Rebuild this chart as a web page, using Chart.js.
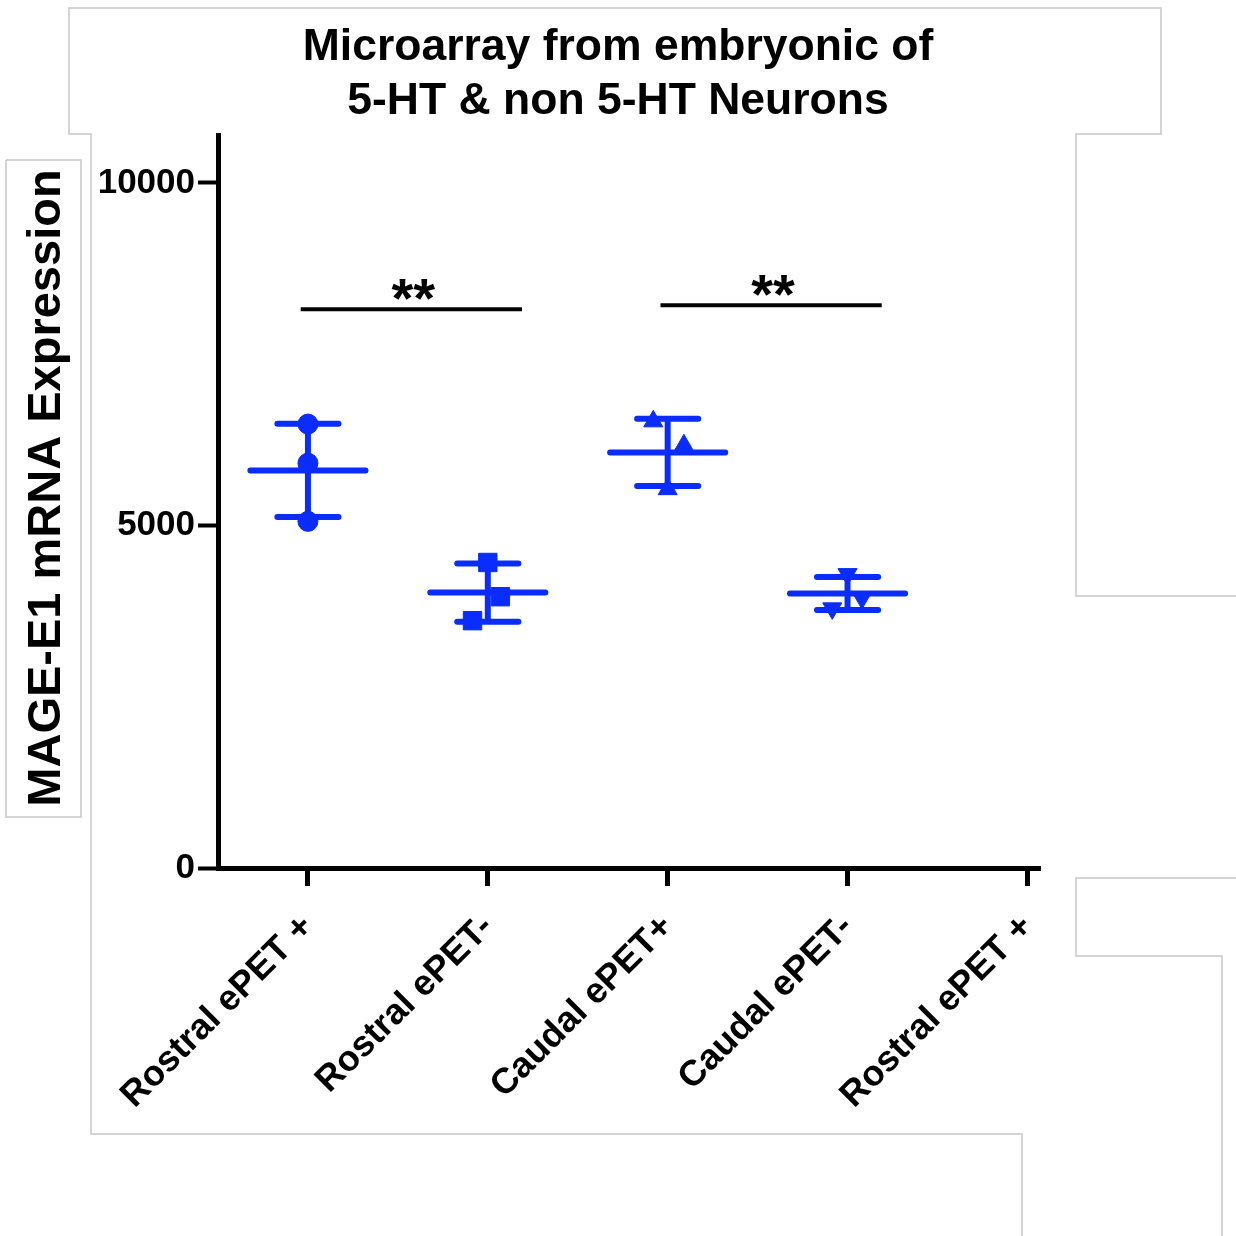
<!DOCTYPE html>
<html><head><meta charset="utf-8">
<script src="https://cdn.jsdelivr.net/npm/chart.js@4/dist/chart.umd.min.js"></script>
<style>html,body{margin:0;padding:0;background:#fff}canvas{display:block}</style>
</head><body>
<canvas id="c" width="1236" height="1236"></canvas>
<script>
// ---------- data ----------
const categories = ['Rostral ePET +', 'Rostral ePET-', 'Caudal ePET+', 'Caudal ePET-', 'Rostral ePET +'];
const titleLines = ['Microarray from embryonic of', '5-HT & non 5-HT Neurons'];
const yAxisTitle = 'MAGE-E1 mRNA Expression';
const yTickValues = [0, 5000, 10000];

const rostralPosValues = [6480, 5910, 5060];
const rostralPosJitter = [0, 0, 0];
const rostralNegValues = [4460, 3960, 3610];
const rostralNegJitter = [0, 0.07, -0.085];
const caudalPosValues = [6520, 6170, 5530];
const caudalPosJitter = [-0.08, 0.09, 0];
const caudalNegValues = [4290, 3790, 3940];
const caudalNegJitter = [0, -0.085, 0.08];

const groupMeans = [5804, 4020, 6067, 4006];
const groupSDs = [680, 424, 490, 241];

const sigPairs = [[0, 1], [2, 3]];
const sigHeights = [8158, 8216];
const sigLabels = ['**', '**'];

// ---------- styles ----------
const BLUE = '#0a2cff';
const FONT = "'Liberation Sans', Arial, Helvetica, sans-serif";
const groups = [
  { values: rostralPosValues, jitter: rostralPosJitter, style: 'circle', radius: 10, rot: 0 },
  { values: rostralNegValues, jitter: rostralNegJitter, style: 'rect', radius: 13, rot: 0 },
  { values: caudalPosValues, jitter: caudalPosJitter, style: 'triangle', radius: 11, rot: 0 },
  { values: caudalNegValues, jitter: caudalNegJitter, style: 'triangle', radius: 11, rot: 180 }
];
const MEAN_HALF = 0.32, CAP_HALF = 0.17;

const datasets = [];
groups.forEach((g, i) => {
  const m = groupMeans[i], sd = groupSDs[i];
  datasets.push({
    type: 'line', yAxisID: 'y',
    data: [
      { x: i - MEAN_HALF, y: m }, { x: i + MEAN_HALF, y: m }, { x: i, y: null },
      { x: i, y: m - sd }, { x: i, y: m + sd }, { x: i, y: null },
      { x: i - CAP_HALF, y: m + sd }, { x: i + CAP_HALF, y: m + sd }, { x: i, y: null },
      { x: i - CAP_HALF, y: m - sd }, { x: i + CAP_HALF, y: m - sd }
    ],
    borderColor: BLUE, borderWidth: 6, borderCapStyle: 'round',
    pointRadius: 0, spanGaps: false, fill: false, tension: 0
  });
  datasets.push({
    type: 'scatter', yAxisID: 'y',
    data: g.values.map((v, k) => ({ x: i + g.jitter[k], y: v })),
    backgroundColor: BLUE, borderColor: BLUE, borderWidth: 1,
    pointStyle: g.style, pointRadius: g.radius, pointRotation: g.rot
  });
});
sigPairs.forEach((p, k) => {
  datasets.push({
    type: 'line', yAxisID: 'y',
    data: [{ x: p[0] - 0.04, y: sigHeights[k] }, { x: p[1] + 0.19, y: sigHeights[k] }],
    borderColor: '#000', borderWidth: 4, pointRadius: 0, fill: false
  });
});

const decoPlugin = {
  id: 'deco',
  beforeDraw(chart) {
    const ctx = chart.ctx;
    ctx.save();
    ctx.fillStyle = '#fff';
    ctx.fillRect(0, 0, chart.width, chart.height);
    ctx.strokeStyle = '#c8c8c8';
    ctx.lineWidth = 1.5;
    const poly = (pts) => {
      ctx.beginPath();
      ctx.moveTo(pts[0][0], pts[0][1]);
      for (let i = 1; i < pts.length; i++) ctx.lineTo(pts[i][0], pts[i][1]);
      ctx.stroke();
    };
    poly([[1236, 596], [1076, 596], [1076, 134], [1161, 134], [1161, 8], [69, 8], [69, 134], [91, 134], [91, 1134], [1022, 1134], [1022, 1236]]);
    poly([[6, 160], [81, 160], [81, 817], [6, 817], [6, 160]]);
    poly([[1236, 878], [1076, 878], [1076, 956], [1222, 956], [1222, 1236]]);
    ctx.restore();
  },
  afterDatasetsDraw(chart) {
    const ctx = chart.ctx, xs = chart.scales.x, ys = chart.scales.y;
    ctx.save();
    ctx.fillStyle = '#000';
    ctx.font = 'bold 56px ' + FONT;
    ctx.textAlign = 'center';
    ctx.textBaseline = 'alphabetic';
    sigPairs.forEach((p, k) => {
      const cx = (xs.getPixelForValue(p[0] - 0.04) + xs.getPixelForValue(p[1] + 0.19)) / 2;
      const cy = ys.getPixelForValue(sigHeights[k]);
      ctx.fillText(sigLabels[k], cx + 2, cy + 8);
    });
    // y-axis title
    ctx.font = 'bold 47px ' + FONT;
    ctx.textBaseline = 'middle';
    ctx.translate(47, 488);
    ctx.rotate(-Math.PI / 2);
    ctx.fillText(yAxisTitle, 0, 0);
    ctx.restore();
  }
};

new Chart(document.getElementById('c'), {
  data: { datasets },
  options: {
    responsive: false,
    animation: false,
    devicePixelRatio: 1,
    layout: { padding: 0 },
    plugins: {
      legend: { display: false },
      tooltip: { enabled: false },
      title: {
        display: true, text: titleLines, color: '#000',
        font: { family: FONT, size: 44.5, weight: 'bold', lineHeight: '54px' },
        padding: { top: 21, bottom: 6 }
      }
    },
    scales: {
      x: {
        type: 'linear', min: -0.5, max: 4.07,
        afterBuildTicks: (s) => { s.ticks = categories.map((c, i) => ({ value: i })); },
        afterFit: (s) => { s.height = 368; },
        grid: { drawOnChartArea: false, drawTicks: true, tickLength: 18, tickWidth: 5, tickColor: '#000' },
        border: { display: true, width: 5, color: '#000' },
        ticks: {
          minRotation: 45, maxRotation: 45, autoSkip: false, padding: 20, color: '#000',
          font: { family: FONT, size: 36, weight: 'bold' },
          callback: (v) => categories[Math.round(v)]
        }
      },
      y: {
        type: 'linear', position: 'left', min: 0, max: 10700,
        afterBuildTicks: (s) => { s.ticks = yTickValues.map(v => ({ value: v })); },
        afterFit: (s) => { s.width = 218; },
        grid: { drawOnChartArea: false, drawTicks: true, tickLength: 20, tickWidth: 4, tickColor: '#000' },
        border: { display: true, width: 5, color: '#000' },
        ticks: { padding: 3, color: '#000', font: { family: FONT, size: 35, weight: 'bold' }, callback: (v) => String(v) }
      },
      yPad: {
        type: 'linear', position: 'right', min: 0, max: 1,
        afterFit: (s) => { s.width = 196; },
        grid: { display: false, drawOnChartArea: false, drawTicks: false },
        border: { display: false },
        ticks: { display: false }
      }
    }
  },
  plugins: [decoPlugin]
});
</script>
</body></html>
